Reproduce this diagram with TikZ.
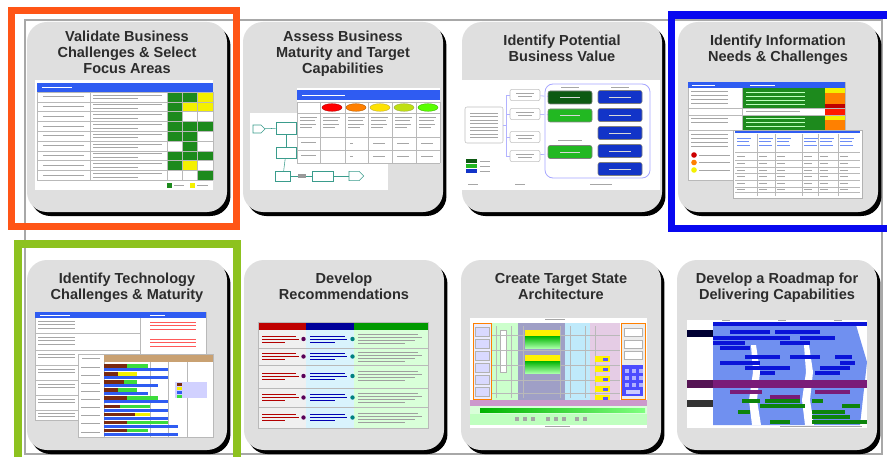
\documentclass[tikz,border=0pt]{standalone}
\usepackage{fontspec}
\setmainfont{Liberation Sans}
\usetikzlibrary{positioning,shadows,shapes.symbols}

\definecolor{tilegray}{HTML}{DFDFDF}
\definecolor{ttlgray}{HTML}{2C2C2C}
\definecolor{bordergray}{HTML}{A8A8A8}
\definecolor{frameorange}{HTML}{FF5516}
\definecolor{frameblue}{HTML}{0808F0}
\definecolor{framegreen}{HTML}{8DC21F}
\definecolor{hdrblue}{HTML}{2F5CF2}
\definecolor{okgreen}{HTML}{1D8A1D}
\definecolor{warnyellow}{HTML}{F4F000}
\definecolor{flowteal}{HTML}{3A9C8C}
\definecolor{valgreen}{HTML}{22B822}
\definecolor{deepgreen}{HTML}{0D5A12}
\definecolor{valblue}{HTML}{1234C8}
\definecolor{barbrown}{HTML}{C9A172}
\definecolor{bardark}{HTML}{7A2A10}
\definecolor{barlime}{HTML}{3CDC3C}
\definecolor{mapblue}{HTML}{7090F0}
\definecolor{mapbar}{HTML}{0A14D8}
\definecolor{mappurple}{HTML}{7A1C78}
\definecolor{mapgreen}{HTML}{0C840C}

\tikzset{
  tile/.style={rectangle, rounded corners=15pt, fill=tilegray,
    minimum width=150pt, minimum height=142.5pt,
    drop shadow={shadow xshift=2.6pt, shadow yshift=-3pt, fill=black, opacity=1}},
  ttl/.style={font=\fontsize{10.9}{12}\selectfont\bfseries, text=ttlgray,
    align=center, inner sep=0pt},
  frame/.style={line width=5.3pt},
  panel/.style={fill=white},
  hair/.style={gray!55, line width=0.35pt},
  scribble/.style={gray!70, line width=0.5pt},
  fbox/.style={draw=flowteal, fill=white, line width=0.4pt, inner sep=0pt},
  farrow/.style={fbox, shape=signal, signal to=east},
  flow/.style={flowteal, line width=0.4pt},
  nbox/.style={draw=gray!50, fill=white, rounded corners=1.5pt, inner sep=0pt},
  vbox/.style={draw=black!50, rounded corners=1.5pt, inner sep=0pt,
    minimum width=33pt, minimum height=9.75pt},
}

\begin{document}
\begin{tikzpicture}[x=0.75pt, y=-0.75pt]
\useasboundingbox (0,0) rectangle (887,456);
\fill[white] (0,0) rectangle (887,456);
\draw[bordergray, line width=0.8pt] (25,20) rectangle (882,454);

% tiles
\node[tile] (t1) at (127,117) {};
\node[tile] (t2) at (343,117) {};
\node[tile] (t3) at (562,117) {};
\node[tile] (t4) at (778,117) {};
\node[tile] (t5) at (127,355) {};
\node[tile] (t6) at (344,355) {};
\node[tile] (t7) at (561,355) {};
\node[tile] (t8) at (777,355) {};

% titles
\node[ttl, below=7pt of t1.north] (h1) {Validate Business\\Challenges \& Select\\Focus Areas};
\node[ttl, below=7pt of t2.north] (h2) {Assess Business\\Maturity and Target\\Capabilities};
\node[ttl, below=9.8pt of t3.north] (h3) {Identify Potential\\Business Value};
\node[ttl, below=9.8pt of t4.north] (h4) {Identify Information\\Needs \& Challenges};
\node[ttl, below=9.8pt of t5.north] (h5) {Identify Technology\\Challenges \& Maturity};
\node[ttl, below=9.8pt of t6.north] (h6) {Develop\\Recommendations};
\node[ttl, below=9.8pt of t7.north] (h7) {Create Target State\\Architecture};
\node[ttl, below=9.8pt of t8.north] (h8) {Develop a Roadmap for\\Delivering Capabilities};

% 1: challenge table
\fill[panel] (35,80) rectangle (213,190);
\fill[hdrblue] (37,83) rectangle (213,92);
\draw[white, line width=0.5pt] (42,87.5) -- (72,87.5);
\foreach \r/\a/\b/\c in {0/okgreen/okgreen/warnyellow, 1/okgreen/warnyellow/warnyellow,
    2/okgreen/white/white, 3/okgreen/okgreen/okgreen, 4/okgreen/okgreen/white,
    5/white/okgreen/white, 6/okgreen/okgreen/okgreen, 7/okgreen/warnyellow/white,
    8/white/white/okgreen} {
  \fill[\a] (167,{92+9.8*\r}) rectangle +(15,9.8);
  \fill[\b] (182,{92+9.8*\r}) rectangle +(15,9.8);
  \fill[\c] (197,{92+9.8*\r}) rectangle +(16,9.8);
  \draw[hair] (37,{92+9.8*\r}) -- (213,{92+9.8*\r});
  \draw[scribble] (43,{96.5+9.8*\r}) -- (84,{96.5+9.8*\r});
  \draw[scribble] (93,{95+9.8*\r}) -- (162,{95+9.8*\r});
  \draw[scribble] (93,{98.5+9.8*\r}) -- (138,{98.5+9.8*\r});
}
\draw[hair] (37,180.2) -- (213,180.2);
\foreach \x in {37,90,167,182,197,213} \draw[hair] (\x,92) -- (\x,180.2);
\fill[okgreen] (167,183) rectangle (172,188);
\fill[warnyellow] (190,183) rectangle (195,188);
\draw[scribble] (174,185.5) -- (184,185.5) (197,185.5) -- (208,185.5);

% 2: maturity table and flow
\fill[panel] (297,88) rectangle (440,163);
\fill[panel] (250,113) rectangle (388,190);
\fill[hdrblue] (297,90) rectangle (440,100);
\draw[white, line width=0.5pt] (302,95) -- (345,95);
\foreach \y in {102,113,137,150,163} \draw[hair] (297,\y) -- (440,\y);
\foreach \x in {297,320,345,368,392,416,440} \draw[hair] (\x,102) -- (\x,163);
\foreach \x/\c in {332/red, 356/orange, 380/yellow!85!orange, 404/yellow!75!green, 428/green!65!yellow}
  \filldraw[fill=\c, draw=\c!70!black, line width=0.3pt] (\x,107.5) ellipse (10 and 3.8);
\foreach \x in {300,323,348,371,395,419} {
  \draw[scribble] (\x,117) -- ++(17,0);
  \draw[scribble] (\x,120.5) -- ++(15,0);
  \draw[scribble] (\x,124) -- ++(16,0);
  \draw[scribble] (\x,127.5) -- ++(12,0);
}
\foreach \x in {373,397,421} \draw[scribble] (\x,143) -- ++(12,0) (\x,156) -- ++(12,0);
\draw[scribble] (350,143) -- ++(3,0) (350,156) -- ++(3,0) (301,142) -- ++(15,0) (301,155) -- ++(15,0);
\node[farrow, minimum width=9pt, minimum height=6pt] (fin) at (257,129) {};
\node[fbox, minimum width=15pt, minimum height=9pt] (fa) at (286,128) {};
\node[fbox, minimum width=15pt, minimum height=8.3pt] (fb) at (286,152.5) {};
\node[fbox, minimum width=11pt, minimum height=7.5pt] (fc) at (283,176) {};
\node[fill=gray!80, inner sep=0pt, minimum width=6pt, minimum height=3pt] (fl) at (302,176) {};
\node[fbox, minimum width=16pt, minimum height=7.5pt] (fd) at (323,176) {};
\node[farrow, minimum width=11pt, minimum height=7pt] (fout) at (354,176) {};
\draw[flow] (fin) -- (fa);
\draw[flow] (fa) -- (fb);
\draw[flow] (fb) -- (fc);
\draw[flow] (fc) -- (fl) -- (fd);
\draw[flow] (fd) -- (fout);

% 3: value map
\fill[panel] (462,80) rectangle (660,190);
\node[nbox, minimum width=28.5pt, minimum height=27pt] (src) at (484,125) {};
\foreach \y in {113,116.5,...,138} \draw[scribble] (470,\y) -- (498,\y);
\foreach \i/\y in {1/95, 2/114, 3/137, 4/156} {
  \node[nbox, minimum width=22.5pt, minimum height=8.5pt] (s\i) at (525,\y) {};
  \draw[scribble, line width=0.35pt] (516,{\y-1.5}) -- (534,{\y-1.5}) (518,{\y+1.5}) -- (532,{\y+1.5});
  \draw[blue!30, line width=0.5pt] (src.east) -- ++(3,0) |- (s\i.west);
}
\draw[blue!35, line width=0.6pt, rounded corners=6pt] (545,84) rectangle (650,178);
\node[vbox, fill=deepgreen] (g1) at (570,97.5) {};
\node[vbox, fill=valgreen] (g2) at (570,115.5) {};
\node[vbox, fill=valgreen] (g3) at (570,152) {};
\foreach \i/\y in {1/97, 2/115, 3/133, 4/151, 5/169} \node[vbox, fill=valblue] (b\i) at (620,\y) {};
\foreach \y in {97.5,115.5,152} \draw[white!70!gray, line width=0.5pt] (560,\y) -- (580,\y);
\foreach \y in {97,115,133,151,169} \draw[white!70!gray, line width=0.5pt] (609,\y) -- (631,\y);
\draw[blue!40, densely dashed, line width=0.4pt] (s1) -- (g1);
\draw[blue!40, densely dashed, line width=0.4pt] (s2) -- (g2);
\draw[blue!40, densely dashed, line width=0.4pt] (s4) -- (g3);
\draw[scribble] (561,87) -- (579,87) (611,87) -- (629,87) (558,140) -- (582,140);
\draw[scribble] (468,184) -- (478,184) (515,184) -- (525,184) (590,184) -- (612,184);
\fill[deepgreen] (466,159) rectangle (477,163);
\fill[valgreen] (466,164) rectangle (477,168);
\fill[valblue] (466,169) rectangle (477,173);
\foreach \y in {161,166,171} \draw[scribble, line width=0.35pt] (480,\y) -- (490,\y);

% 4: information needs
\fill[panel] (688,82) rectangle (845,180);
\draw[hair] (688,82) rectangle (845,180);
\fill[hdrblue] (688,82) rectangle (845,88);
\fill[okgreen] (742,88) rectangle (825,108);
\fill[okgreen] (742,115) rectangle (825,130);
\fill[warnyellow] (825,88) rectangle (845,93);
\fill[orange] (825,93) rectangle (845,104);
\fill[red!75!black] (825,104) rectangle (845,109);
\fill[red!80!orange] (825,109) rectangle (845,115);
\fill[warnyellow] (825,115) rectangle (845,120);
\fill[orange] (825,120) rectangle (845,130);
\draw[hair] (742,88) -- (742,180) (688,108) -- (845,108) (688,115) -- (845,115) (688,130) -- (733,130);
\foreach \y in {92,96,100,104,118,122,126} \draw[white!75!green, line width=0.4pt] (746,\y) -- (805,\y);
\foreach \y in {91,95,99,103,118,122,134,138,142,146} \draw[scribble, line width=0.4pt] (691,\y) -- (728,\y);
\draw[white, line width=0.4pt] (692,85) -- (715,85) (750,85) -- (775,85);
\draw[scribble, line width=0.4pt] (746,111) -- (800,111);
\fill[red!80!black] (694,155) circle (2.8);
\fill[orange] (694,162.5) circle (2.8);
\fill[warnyellow] (694,170) circle (2.8);
\foreach \y in {155,162.5,170} \draw[scribble, line width=0.4pt] (699,\y) -- (730,\y);
\fill[panel] (733,130) rectangle (862,198);
\draw[gray!60, line width=0.4pt] (733,130) rectangle (862,198);
\draw[hdrblue, line width=0.8pt] (735,132) -- (860,132);
\foreach \x in {757,775,802,818,838} \draw[hair] (\x,134) -- (\x,196);
\foreach \y in {152,160,167,173,180,187,192} \draw[hair] (735,\y) -- (860,\y);
\foreach \x in {737,759,777,804,820,840} {
  \draw[hdrblue!70, line width=0.4pt] (\x,138) -- ++(14,0) (\x,141.5) -- ++(12,0) (\x,145) -- ++(13,0);
  \foreach \y in {156,163.5,170,176.5,183.5,189.5} \draw[scribble, line width=0.35pt] (\x,\y) -- ++(8,0);
}

% 5: technology maturity
\fill[panel] (35,312) rectangle (206,420);
\draw[hair] (35,312) rectangle (206,420);
\fill[hdrblue] (35,312) rectangle (206,318);
\draw[white, line width=0.4pt] (40,315) -- (70,315) (150,315) -- (165,315);
\draw[hair] (140,318) -- (140,420);
\foreach \y in {333,350,365,380,395,410} \draw[hair] (35,\y) -- (140,\y);
\foreach \y in {321,324.5,328,337,340.5,344,354,357.5,369,372.5,384,387.5,399,402.5,413,416.5}
  \draw[scribble, line width=0.4pt] (38,\y) -- (75,\y);
\foreach \y in {322,325.5,329,339,342.5,346} \draw[red!65, line width=0.4pt] (150,\y) -- (196,\y);
\fill[panel] (78,354) rectangle (213,437);
\draw[hair] (78,354) rectangle (213,437);
\fill[barbrown] (104,355) rectangle (213,362);
\draw[scribble, line width=0.4pt] (82,358) -- (100,358);
\foreach \x in {104,150,168,187} \draw[hair] (\x,362) -- (\x,437);
\foreach \k/\a/\b/\c/\m in {0/127/148/168/barlime, 1/118/137/168/warnyellow,
    2/124/137/158/barlime, 3/118/137/148/barlime, 4/127/158/168/barlime,
    5/120/150/168/barlime, 6/135/150/168/warnyellow, 7/127/168/178/barlime,
    8/127/148/178/barlime} {
  \fill[bardark] (104,{364+8.1*\k}) rectangle (\a,{367.5+8.1*\k});
  \fill[\m] (\a,{364+8.1*\k}) rectangle (\b,{367.5+8.1*\k});
  \fill[hdrblue] (104,{368+8.1*\k}) rectangle (\c,{371+8.1*\k});
  \draw[scribble, line width=0.4pt] (81,{367+8.1*\k}) -- (100,{367+8.1*\k});
}
\fill[blue!18] (175,382) rectangle (207,398);
\foreach \y/\c in {384/bardark, 388/warnyellow, 392/hdrblue, 396/barlime}
  \fill[\c] (177,{\y-1.5}) rectangle (182,{\y+1.5});

% 6: recommendations
\fill[gray!12] (258,330) rectangle (306,428);
\fill[cyan!15] (306,330) rectangle (354,428);
\fill[green!15] (354,330) rectangle (428,428);
\fill[red!75!black] (258,322) rectangle (306,330);
\fill[blue!60!black] (306,322) rectangle (354,330);
\fill[green!60!black] (354,322) rectangle (428,330);
\foreach \y in {348,365,388,407} \draw[hair] (258,\y) -- (428,\y);
\draw[hair] (258,322) rectangle (428,428);
\foreach \y in {339,356.5,376,397.5,417.5} {
  \fill[violet!70!black] (303.5,\y) circle (2.2);
  \fill[teal] (352.5,\y) circle (2.2);
  \draw[red!70!black, line width=0.45pt] (262,{\y-3}) -- (296,{\y-3}) (262,\y) -- (299,\y) (262,{\y+3}) -- (285,{\y+3});
  \draw[blue!70!black, line width=0.45pt] (310,{\y-3}) -- (345,{\y-3}) (310,\y) -- (347,\y) (310,{\y+3}) -- (335,{\y+3});
  \draw[gray!75, line width=0.4pt] (358,{\y-4.5}) -- (418,{\y-4.5}) (358,{\y-1.5}) -- (422,{\y-1.5})
    (358,{\y+1.5}) -- (415,{\y+1.5}) (358,{\y+4.5}) -- (405,{\y+4.5});
}

% 7: target architecture
\fill[panel] (470,318) rectangle (647,428);
\draw[scribble, line width=0.4pt] (545,319.5) -- (565,319.5);
\filldraw[fill=blue!8, draw=orange, line width=0.6pt] (473,323) rectangle (491,399);
\fill[green!20] (492,323) rectangle (518,400);
\fill[blue!25!gray!60] (518,323) rectangle (565,400);
\fill[cyan!25] (565,323) rectangle (590,400);
\fill[violet!20] (590,323) rectangle (620,400);
\filldraw[fill=gray!15, draw=orange, line width=0.6pt] (621,323) rectangle (645,399);
\foreach \y in {327,339,351,363,375,387} \draw[gray!60, fill=white!85!blue, line width=0.3pt] (475,\y) rectangle (489,{\y+9});
\draw[gray!60, fill=white, line width=0.3pt] (500,330) rectangle (506,372);
\foreach \x in {496,511,523,560,570,585,595} \draw[hair] (\x,326) -- (\x,398);
\foreach \y in {335,350,365,380,393} \draw[hair] (492,\y) -- (620,\y);
\fill[yellow] (525,330) rectangle (560,336);
\shade[top color=green!70!black, bottom color=green!35] (525,336) rectangle (560,348);
\fill[yellow] (525,355) rectangle (560,361);
\shade[top color=green!70!black, bottom color=green!35] (525,361) rectangle (560,373);
\foreach \y in {356,366,376,386,395} {
  \fill[yellow] (595,\y) rectangle (610,{\y+6});
  \fill[blue!65] (603,{\y+1.5}) rectangle (608,{\y+4.5});
}
\foreach \y in {328,340,351} \draw[gray!60, fill=white, line width=0.3pt] (624,\y) rectangle (642,{\y+8});
\fill[blue!70] (622,365) rectangle (643,396);
\foreach \x in {625,632,639} \foreach \y in {369,376,383} \fill[blue!30] (\x,\y) rectangle +(4,4);
\fill[white!80!blue] (626,390) rectangle (640,394);
\fill[violet!40] (470,400) rectangle (647,406);
\fill[green!15] (470,406) rectangle (647,414);
\shade[left color=green!70!black, right color=green!50] (480,408) rectangle (645,412);
\fill[green!25] (470,414) rectangle (647,425);
\foreach \x in {515,523,531,546,554,562,575,583} \fill[gray!70] (\x,417) rectangle +(4,4);
\draw[scribble, line width=0.4pt] (545,426.5) -- (570,426.5);

% 8: roadmap
\fill[panel] (687,320) rectangle (867,428);
\fill[mapblue] (713,325) -- (856,325) -- (867,362) -- (860,425) -- (713,425) -- cycle;
\fill[white] (751,345) -- (756,345) -- (760,372) -- (757,400) -- (761,425) -- (752,425) -- (749,400) -- (753,372) -- cycle;
\fill[white] (804,345) -- (809,345) -- (813,372) -- (810,400) -- (814,425) -- (805,425) -- (802,400) -- (806,372) -- cycle;
\foreach \y/\a/\b in {322/713/867, 330/730/770, 330/775/820, 336/713/790, 336/800/835,
    341/713/745, 341/780/810, 346/720/750, 355/745/780, 355/790/820, 355/835/852,
    361/720/760, 361/840/855, 366/745/790, 366/820/850, 371/760/775, 371/815/840}
  \fill[mapbar] (\a,\y) rectangle (\b,{\y+4});
\fill[mappurple] (687,380) rectangle (867,388);
\foreach \y/\a/\b in {390/730/762, 390/815/850, 395/770/800}
  \fill[mappurple] (\a,\y) rectangle (\b,{\y+4});
\foreach \y/\a/\b in {399/742/760, 399/765/800, 399/812/823, 404/760/805, 404/842/860,
    410/738/750, 410/812/845, 415/812/850, 420/770/790, 420/812/867}
  \fill[mapgreen] (\a,\y) rectangle (\b,{\y+4});
\fill[blue!20!black] (687,330) rectangle (713,337);
\fill[mappurple!70!black] (687,380) rectangle (713,388);
\fill[black!80] (687,400) rectangle (713,407);
\draw[scribble, line width=0.4pt] (722,320.5) -- (730,320.5) (778,320.5) -- (786,320.5) (834,320.5) -- (842,320.5);
\draw[scribble, line width=0.4pt] (780,426.5) -- (862,426.5);

% highlight frames
\draw[frame, frameorange] (11.5,10.5) rectangle (236.5,226.5);
\draw[frame, frameblue] (671.5,15) rectangle (900,228.5);
\draw[frame, framegreen, line width=6pt] (18,244) rectangle (236.5,475);
\end{tikzpicture}
\end{document}
